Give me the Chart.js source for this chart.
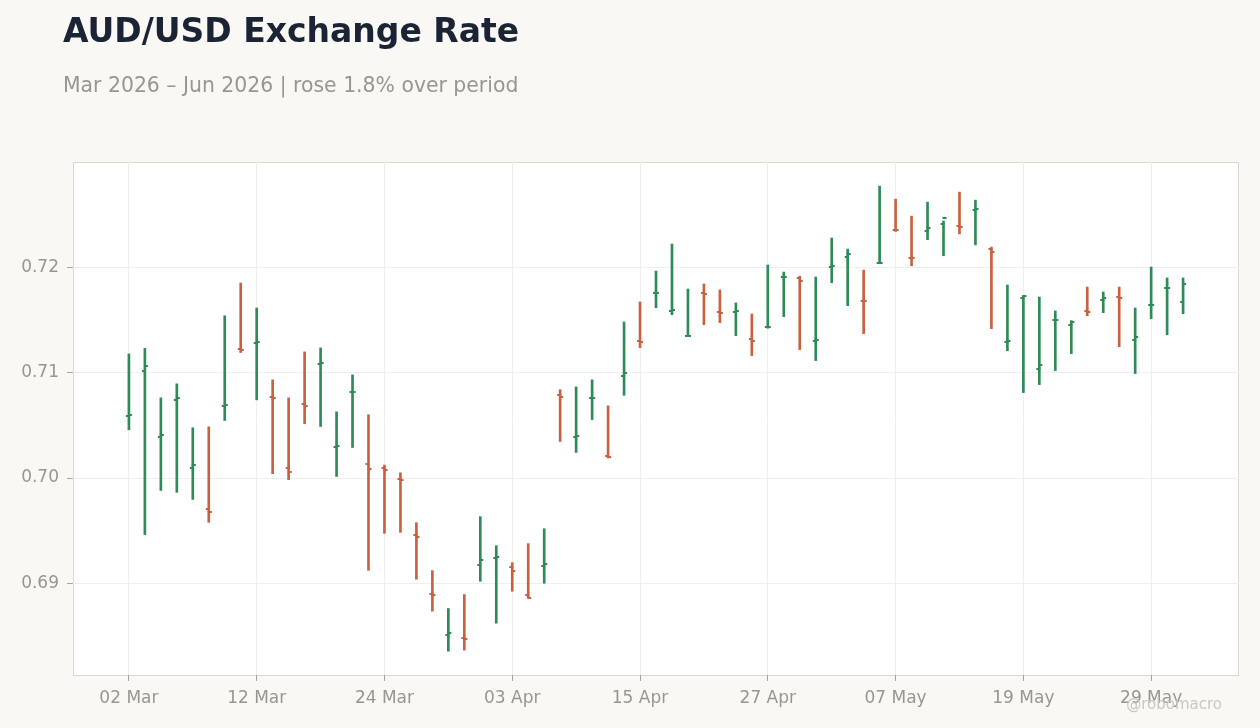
<!DOCTYPE html>
<html>
<head>
<meta charset="utf-8">
<title>AUD/USD Exchange Rate</title>
<script src="https://cdn.jsdelivr.net/npm/chart.js@4.4.1/dist/chart.umd.min.js"></script>
<style>
  html, body { margin: 0; padding: 0; background: #f9f8f5; }
  body { width: 1260px; height: 728px; position: relative; overflow: hidden; font-family: "DejaVu Sans", sans-serif; }
  #chart { position: absolute; left: 0; top: 0; }
  .title { position: absolute; left: 63px; top: 14px; margin: 0; font-size: 33px; line-height: 33px; font-weight: bold; color: #1b2434; white-space: nowrap; }
  .subtitle { position: absolute; left: 63px; top: 75px; margin: 0; font-size: 20.4px; line-height: 20px; color: #9a958f; white-space: nowrap; }
  .credit { position: absolute; right: 38px; top: 697px; font-size: 15px; line-height: 15px; color: #cbc7c1; white-space: nowrap; }
</style>
</head>
<body>
<canvas id="chart" width="1260" height="728"></canvas>
<h1 class="title">AUD/USD Exchange Rate</h1>
<p class="subtitle">Mar 2026 – Jun 2026 | rose 1.8% over period</p>
<div class="credit">@robomacro</div>
<script>
'use strict';

// Trading days (x categories)
const dates = [
  '02 Mar', '03 Mar', '04 Mar', '05 Mar', '06 Mar', '09 Mar', '10 Mar', '11 Mar', '12 Mar', '13 Mar',
  '16 Mar', '17 Mar', '18 Mar', '19 Mar', '20 Mar', '23 Mar', '24 Mar', '25 Mar', '26 Mar', '27 Mar',
  '30 Mar', '31 Mar', '01 Apr', '02 Apr', '03 Apr', '06 Apr', '07 Apr', '08 Apr', '09 Apr', '10 Apr',
  '13 Apr', '14 Apr', '15 Apr', '16 Apr', '17 Apr', '20 Apr', '21 Apr', '22 Apr', '23 Apr', '24 Apr',
  '27 Apr', '28 Apr', '29 Apr', '30 Apr', '01 May', '04 May', '05 May', '06 May', '07 May', '08 May',
  '11 May', '12 May', '13 May', '14 May', '15 May', '18 May', '19 May', '20 May', '21 May', '22 May',
  '25 May', '26 May', '27 May', '28 May', '29 May', '01 Jun', '02 Jun',
];

const opens = [
  0.70584, 0.71020, 0.70394, 0.70745, 0.70098, 0.69702, 0.70679, 0.71228, 0.71285, 0.70773,
  0.70091, 0.70698, 0.71083, 0.70297, 0.70818, 0.70129, 0.70091, 0.69991, 0.69456, 0.68897,
  0.68508, 0.68480, 0.69178, 0.69242, 0.69153, 0.68887, 0.69162, 0.70792, 0.70391, 0.70761,
  0.70205, 0.70973, 0.71301, 0.71756, 0.71586, 0.71349, 0.71759, 0.71579, 0.71573, 0.71320,
  0.71434, 0.71905, 0.71901, 0.71301, 0.72006, 0.72098, 0.71685, 0.72040, 0.72356, 0.72091,
  0.72347, 0.72413, 0.72394, 0.72543, 0.72176, 0.71292, 0.71712, 0.71036, 0.71500, 0.71456,
  0.71583, 0.71693, 0.71721, 0.71314, 0.71643, 0.71805, 0.71674,
];

const highs = [
  0.71178, 0.71230, 0.70761, 0.70894, 0.70477, 0.70486, 0.71540, 0.71851, 0.71614, 0.70932,
  0.70761, 0.71197, 0.71235, 0.70628, 0.70979, 0.70600, 0.70123, 0.70050, 0.69576, 0.69121,
  0.68761, 0.68894, 0.69633, 0.69358, 0.69197, 0.69377, 0.69519, 0.70838, 0.70865, 0.70932,
  0.70685, 0.71481, 0.71671, 0.71965, 0.72221, 0.71794, 0.71842, 0.71785, 0.71662, 0.71557,
  0.72022, 0.71955, 0.71915, 0.71908, 0.72278, 0.72173, 0.71974, 0.72771, 0.72647, 0.72486,
  0.72619, 0.72440, 0.72714, 0.72638, 0.72192, 0.71832, 0.71731, 0.71718, 0.71586, 0.71494,
  0.71813, 0.71766, 0.71813, 0.71614, 0.72003, 0.71899, 0.71899,
];

const lows = [
  0.70458, 0.69463, 0.69882, 0.69864, 0.69797, 0.69579, 0.70546, 0.71191, 0.70742, 0.70041,
  0.69984, 0.70515, 0.70489, 0.70015, 0.70290, 0.69124, 0.69475, 0.69484, 0.69039, 0.68736,
  0.68356, 0.68366, 0.69020, 0.68622, 0.68925, 0.68865, 0.69001, 0.70347, 0.70243, 0.70555,
  0.70190, 0.70785, 0.71238, 0.71617, 0.71551, 0.71349, 0.71456, 0.71475, 0.71352, 0.71162,
  0.71422, 0.71532, 0.71219, 0.71115, 0.71854, 0.71636, 0.71371, 0.72038, 0.72341, 0.72015,
  0.72262, 0.72110, 0.72318, 0.72214, 0.71418, 0.71209, 0.70811, 0.70887, 0.71020, 0.71181,
  0.71541, 0.71570, 0.71247, 0.70992, 0.71513, 0.71361, 0.71560,
];

const closes = [
  0.70594, 0.71067, 0.70413, 0.70764, 0.70119, 0.69674, 0.70695, 0.71216, 0.71295, 0.70764,
  0.70060, 0.70688, 0.71096, 0.70300, 0.70821, 0.70088, 0.70072, 0.69977, 0.69437, 0.68887,
  0.68524, 0.68470, 0.69219, 0.69247, 0.69121, 0.68865, 0.69181, 0.70771, 0.70401, 0.70764,
  0.70202, 0.71001, 0.71292, 0.71760, 0.71595, 0.71352, 0.71750, 0.71570, 0.71589, 0.71301,
  0.71437, 0.71911, 0.71873, 0.71314, 0.72012, 0.72129, 0.71680, 0.72044, 0.72353, 0.72088,
  0.72375, 0.72472, 0.72385, 0.72553, 0.72148, 0.71301, 0.71731, 0.71077, 0.71503, 0.71484,
  0.71573, 0.71712, 0.71712, 0.71342, 0.71647, 0.71808, 0.71845,
];

const xTickEvery = 8;
const yTicks = [0.69, 0.70, 0.71, 0.72];

const UP = '#2e8a57';
const DOWN = '#c8613f';
const TEXT = '#9a958f';

const isUp = i => closes[i] >= opens[i];
const colorAt = i => (isUp(i) ? UP : DOWN);

// Small images used as point styles: open tick sticks out left, close tick right
function makeTick(color, side) {
  const c = document.createElement('canvas');
  c.width = 8;
  c.height = 2;
  const ctx = c.getContext('2d');
  ctx.fillStyle = color;
  if (side === 'open') {
    ctx.fillRect(1, 0, 4, 2);
  } else {
    ctx.fillRect(3, 0, 4, 2);
  }
  return c;
}

const tickImages = {
  open: { up: makeTick(UP, 'open'), down: makeTick(DOWN, 'open') },
  close: { up: makeTick(UP, 'close'), down: makeTick(DOWN, 'close') },
};

// White plot area with a thin frame
const plotFrame = {
  id: 'plotFrame',
  beforeDraw(chart) {
    const { ctx, chartArea: a } = chart;
    ctx.save();
    ctx.fillStyle = '#ffffff';
    ctx.fillRect(a.left, a.top, a.right - a.left, a.bottom - a.top);
    ctx.strokeStyle = '#ddd8d1';
    ctx.lineWidth = 1;
    ctx.strokeRect(Math.round(a.left) + 0.5, Math.round(a.top) + 0.5,
      Math.round(a.right - a.left) - 1, Math.round(a.bottom - a.top));
    ctx.restore();
  },
};

const font = { family: '"DejaVu Sans", sans-serif', size: 17 };

new Chart(document.getElementById('chart'), {
  type: 'bar',
  data: {
    datasets: [
      {
        type: 'bar',
        label: 'High-Low',
        data: highs.map((h, i) => ({ x: i, y: [lows[i], h] })),
        backgroundColor: ctx => colorAt(ctx.dataIndex),
        barThickness: 2,
        borderWidth: 0,
        order: 2,
      },
      {
        type: 'scatter',
        label: 'Open',
        data: opens.map((v, i) => ({ x: i, y: v })),
        pointStyle: ctx => tickImages.open[isUp(ctx.dataIndex) ? 'up' : 'down'],
        pointRadius: 3,
        order: 1,
      },
      {
        type: 'scatter',
        label: 'Close',
        data: closes.map((v, i) => ({ x: i, y: v })),
        pointStyle: ctx => tickImages.close[isUp(ctx.dataIndex) ? 'up' : 'down'],
        pointRadius: 3,
        order: 0,
      },
    ],
  },
  options: {
    responsive: false,
    animation: false,
    events: [],
    layout: { padding: { top: 162, right: 21, left: 0, bottom: 0 } },
    plugins: {
      legend: { display: false },
      tooltip: { enabled: false },
    },
    scales: {
      x: {
        type: 'linear',
        offset: false,
        min: -3.5,
        max: dates.length - 1 + 3.5,
        afterBuildTicks: scale => {
          const ticks = [];
          for (let i = 0; i < dates.length; i += xTickEvery) {
            ticks.push({ value: i });
          }
          scale.ticks = ticks;
        },
        afterFit: scale => { scale.height = 53; },
        grid: { offset: false, color: '#f0efed', tickColor: '#a8a39c', tickLength: 6 },
        border: { display: false },
        ticks: {
          color: TEXT,
          font,
          padding: 7,
          maxRotation: 0,
          callback: value => dates[value],
        },
      },
      y: {
        min: 0.6813,
        max: 0.7300,
        afterBuildTicks: scale => {
          scale.ticks = yTicks.map(value => ({ value }));
        },
        afterFit: scale => { scale.width = 73; },
        grid: { color: '#f0efed', tickColor: '#a8a39c', tickLength: 6 },
        border: { display: false },
        ticks: {
          color: TEXT,
          font,
          padding: 8,
          callback: value => value.toFixed(2),
        },
      },
    },
  },
  plugins: [plotFrame],
});
</script>
</body>
</html>
